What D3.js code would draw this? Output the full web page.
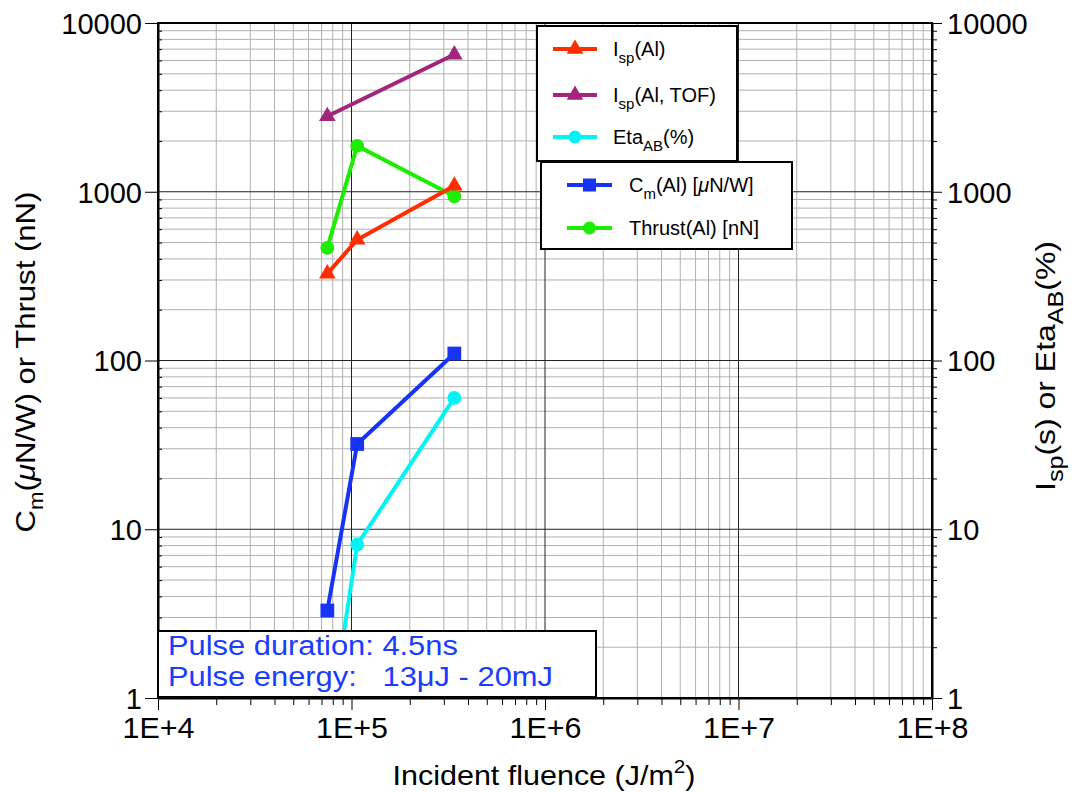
<!DOCTYPE html>
<html>
<head>
<meta charset="utf-8">
<script src="https://cdn.jsdelivr.net/npm/d3@7"></script>
<style>
  html, body { margin: 0; padding: 0; background: #fff; }
  svg { display: block; font-family: "Liberation Sans", Arial, Helvetica, sans-serif; }
</style>
</head>
<body>
<svg id="chart" width="1077" height="792"></svg>
<script>
// ---------------- data ----------------
const fluence = [7.5e4, 1.07e5, 3.4e5];          // J/m^2
const ispAl = [327, 520, 1085];                    // s
const ispTOF = [2800, null, 6500];                 // s
const etaAB = [0.55, 8.1, 60];                     // %
const cmAl = [3.3, 32, 110];                       // uN/W
const thrustAl = [465, 1870, 940];                 // nN

const xTickValues = [1e4, 1e5, 1e6, 1e7, 1e8];
const xTickLabels = ["1E+4", "1E+5", "1E+6", "1E+7", "1E+8"];
const yTickValues = [1, 10, 100, 1000, 10000];
const yTickLabels = ["1", "10", "100", "1000", "10000"];

// ---------------- layout ----------------
const L = 158, R = 932, T = 23, B = 698;
const svg = d3.select("#chart");
const x = d3.scaleLog().domain([1e4, 1e8]).range([L, R]);
const y = d3.scaleLog().domain([1, 1e4]).range([B, T]);

const minorX = [], minorY = [];
for (let d = 1e4; d < 1e8; d *= 10) for (let k = 2; k <= 9; k++) minorX.push(d * k);
for (let d = 1; d < 1e4; d *= 10) for (let k = 2; k <= 9; k++) minorY.push(d * k);

// helper: place text, then stretch it along its own direction to a target length
function placeText(t, px, py, rot, target) {
  let s = 1;
  if (target) { const w = t.node().getBBox().width; if (w > 0) s = target / w; }
  t.attr("transform", `translate(${px},${py}) rotate(${rot}) scale(${s},1)`);
}

// grid
const grid = svg.append("g");
grid.selectAll(".mx").data(minorX).join("line")
  .attr("x1", d => x(d)).attr("x2", d => x(d)).attr("y1", T).attr("y2", B)
  .attr("stroke", "#b0b0b0").attr("stroke-width", 1);
grid.selectAll(".my").data(minorY).join("line")
  .attr("y1", d => y(d)).attr("y2", d => y(d)).attr("x1", L).attr("x2", R)
  .attr("stroke", "#b0b0b0").attr("stroke-width", 1);
grid.selectAll(".Mx").data(xTickValues).join("line")
  .attr("x1", d => x(d)).attr("x2", d => x(d)).attr("y1", T).attr("y2", B)
  .attr("stroke", "#222").attr("stroke-width", 1);
grid.selectAll(".My").data(yTickValues).join("line")
  .attr("y1", d => y(d)).attr("y2", d => y(d)).attr("x1", L).attr("x2", R)
  .attr("stroke", "#222").attr("stroke-width", 1);

// axes
const fmt = (vals, labs) => d => labs[vals.indexOf(d)];
const tickFont = "29px";

const bottom = svg.append("g").attr("transform", `translate(0,${B})`)
  .call(d3.axisBottom(x).tickValues(xTickValues).tickFormat(fmt(xTickValues, xTickLabels)).tickSize(12).tickSizeOuter(0));
svg.append("g").attr("transform", `translate(0,${B})`)
  .call(d3.axisBottom(x).tickValues(minorX).tickFormat("").tickSize(7).tickSizeOuter(0))
  .select(".domain").remove();
bottom.selectAll("text").attr("y", 40).attr("dy", 0).style("font-size", tickFont).attr("fill", "#000")
  .attr("transform", "scale(1.05,1)");

const left = svg.append("g").attr("transform", `translate(${L},0)`)
  .call(d3.axisLeft(y).tickValues(yTickValues).tickFormat(fmt(yTickValues, yTickLabels)).tickSize(13).tickSizeOuter(0));
svg.append("g").attr("transform", `translate(${L},0)`)
  .call(d3.axisRight(y).tickValues(minorY).tickFormat("").tickSize(4).tickSizeOuter(0))
  .select(".domain").remove();
left.selectAll("text").attr("x", -16).attr("dy", "0.36em").style("font-size", tickFont).attr("fill", "#000");

const right = svg.append("g").attr("transform", `translate(${R},0)`)
  .call(d3.axisRight(y).tickValues(yTickValues).tickFormat(fmt(yTickValues, yTickLabels)).tickSize(10).tickSizeOuter(0));
svg.append("g").attr("transform", `translate(${R},0)`)
  .call(d3.axisRight(y).tickValues(minorY).tickFormat("").tickSize(5).tickSizeOuter(0))
  .select(".domain").remove();
right.selectAll("text").attr("x", 15).attr("dy", "0.36em").style("font-size", tickFont).attr("fill", "#000");

svg.selectAll(".domain").attr("stroke", "#000").attr("stroke-width", 2);
svg.selectAll(".tick line").attr("stroke", "#000");

// frame
svg.append("rect").attr("x", L).attr("y", T).attr("width", R - L).attr("height", B - T)
  .attr("fill", "none").attr("stroke", "#000").attr("stroke-width", 2);

// ---------------- series ----------------
svg.append("clipPath").attr("id", "clip").append("rect")
  .attr("x", L).attr("y", T).attr("width", R - L).attr("height", B - T);
const plot = svg.append("g").attr("clip-path", "url(#clip)");

const series = [
  { name: "thrust", vals: thrustAl, color: "#1ded00", sym: d3.symbolCircle, size: 150 },
  { name: "cm", vals: cmAl, color: "#1734f5", sym: d3.symbolSquare, size: 190 },
  { name: "eta", vals: etaAB, color: "#00f4f4", sym: d3.symbolCircle, size: 150 },
  { name: "ispTOF", vals: ispTOF, color: "#a3267c", sym: d3.symbolTriangle, size: 120 },
  { name: "isp", vals: ispAl, color: "#ff2e00", sym: d3.symbolTriangle, size: 120 },
];
series.forEach(s => {
  const pts = fluence.map((f, i) => [f, s.vals[i]]).filter(p => p[1] != null);
  plot.append("path").datum(pts)
    .attr("d", d3.line().x(p => x(p[0])).y(p => y(p[1])))
    .attr("fill", "none").attr("stroke", s.color).attr("stroke-width", 4).attr("stroke-linejoin", "round");
  plot.selectAll(null).data(pts).join("path")
    .attr("transform", p => `translate(${x(p[0])},${y(p[1])})`)
    .attr("d", d3.symbol().type(s.sym).size(s.size))
    .attr("fill", s.color);
});

// ---------------- legends ----------------
function legendBox(bx, by, bw, bh) {
  svg.append("rect").attr("x", bx).attr("y", by).attr("width", bw).attr("height", bh)
    .attr("fill", "#fff").attr("stroke", "#000").attr("stroke-width", 2);
}
function legendRow(x0, x1, ly, color, sym, size, tx, parts) {
  svg.append("line").attr("x1", x0).attr("x2", x1).attr("y1", ly).attr("y2", ly)
    .attr("stroke", color).attr("stroke-width", 4);
  svg.append("path").attr("transform", `translate(${(x0 + x1) / 2},${ly})`)
    .attr("d", d3.symbol().type(sym).size(size)).attr("fill", color);
  const t = svg.append("text").attr("x", tx).attr("y", ly + 7).style("font-size", "20px").attr("fill", "#000");
  parts.forEach(p => {
    const sp = t.append("tspan").text(p.t);
    if (p.sub) sp.style("font-size", "15px").attr("dy", 7);
    if (p.up) sp.attr("dy", -7);
    if (p.it) sp.style("font-style", "italic");
  });
}
legendBox(537, 26, 200, 135);
legendRow(553, 597, 49, "#ff2e00", d3.symbolTriangle, 120, 613,
  [{ t: "I" }, { t: "sp", sub: true }, { t: "(Al)", up: true }]);
legendRow(553, 597, 95, "#a3267c", d3.symbolTriangle, 120, 613,
  [{ t: "I" }, { t: "sp", sub: true }, { t: "(Al, TOF)", up: true }]);
legendRow(553, 597, 137, "#00f4f4", d3.symbolCircle, 130, 613,
  [{ t: "Eta" }, { t: "AB", sub: true }, { t: "(%)", up: true }]);

legendBox(541, 162, 251, 87);
legendRow(567, 612, 185, "#1734f5", d3.symbolSquare, 170, 629,
  [{ t: "C" }, { t: "m", sub: true }, { t: "(Al) [", up: true }, { t: "μ", it: true }, { t: "N/W]" }]);
legendRow(567, 612, 228, "#1ded00", d3.symbolCircle, 130, 629,
  [{ t: "Thrust(Al) [nN]" }]);

// ---------------- annotation box ----------------
svg.append("rect").attr("x", 158).attr("y", 631).attr("width", 438).attr("height", 66)
  .attr("fill", "#fff").attr("stroke", "#000").attr("stroke-width", 2);
const a1 = svg.append("text").style("font-size", "28px").attr("fill", "#1a3cff")
  .text("Pulse duration: 4.5ns");
placeText(a1, 168, 655, 0, 290);
const a2 = svg.append("text").style("font-size", "28px").attr("fill", "#1a3cff")
  .attr("xml:space", "preserve").style("white-space", "pre")
  .text("Pulse energy:   13μJ - 20mJ");
placeText(a2, 168, 686, 0, 385);

// ---------------- axis titles ----------------
const xt = svg.append("text").attr("text-anchor", "middle")
  .style("font-size", "28px").attr("fill", "#000");
xt.append("tspan").text("Incident fluence (J/m");
xt.append("tspan").text("2").style("font-size", "19px").attr("dy", -12);
xt.append("tspan").text(")").attr("dy", 12);
placeText(xt, 544, 785, 0, 303);

const ylt = svg.append("text").attr("text-anchor", "middle")
  .style("font-size", "28px").attr("fill", "#000");
ylt.append("tspan").text("C");
ylt.append("tspan").text("m").style("font-size", "20px").attr("dy", 8);
ylt.append("tspan").text("(").attr("dy", -8);
ylt.append("tspan").text("μ").style("font-style", "italic");
ylt.append("tspan").text("N/W) or Thrust (nN)");
placeText(ylt, 35, 362, -90, 341);

const yrt = svg.append("text").attr("text-anchor", "middle")
  .style("font-size", "28px").attr("fill", "#000");
yrt.append("tspan").text("I");
yrt.append("tspan").text("sp").style("font-size", "22px").attr("dy", 8);
yrt.append("tspan").text("(s) or Eta").attr("dy", -8);
yrt.append("tspan").text("AB").style("font-size", "22px").attr("dy", 8);
yrt.append("tspan").text("(%)").attr("dy", -8);
placeText(yrt, 1055, 366, -90, 250);
</script>
</body>
</html>
